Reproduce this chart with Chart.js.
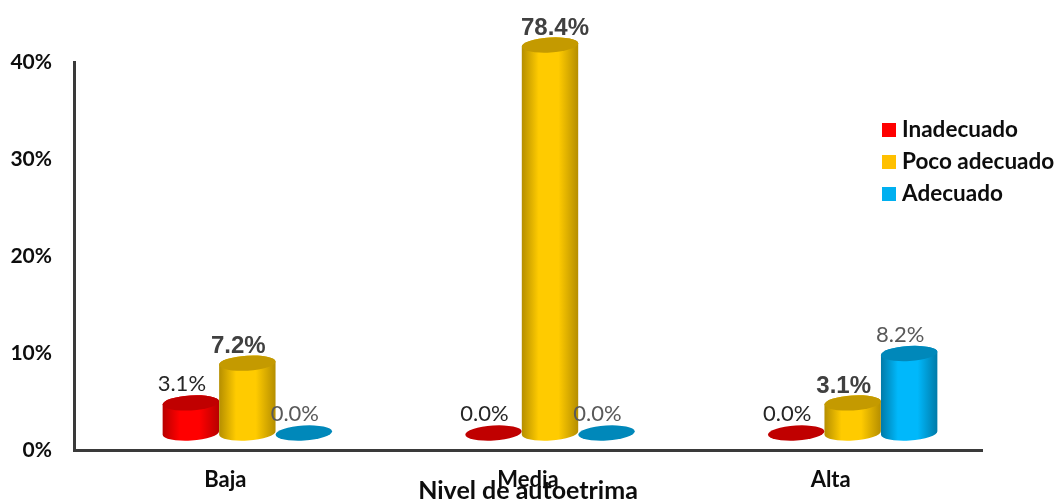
<!DOCTYPE html>
<html lang="es">
<head>
<meta charset="utf-8">
<title>Nivel de autoetrima</title>
<script src="https://cdn.jsdelivr.net/npm/chart.js@4/dist/chart.umd.min.js"></script>
<style>
    html, body { margin: 0; padding: 0; background: #fff; }
    canvas { display: block; }
</style>
</head>
<body>
<canvas id="autoestimaChart" width="1055" height="501"></canvas>
<script>
    const categories = ["Baja", "Media", "Alta"];
    const seriesNames = ["Inadecuado", "Poco adecuado", "Adecuado"];
    const inadecuado = [3.1, 0.0, 0.0];
    const pocoAdecuado = [7.2, 78.4, 3.1];
    const adecuado = [0.0, 0.0, 8.2];
    const axisTitle = "Nivel de autoetrima";

    // colours per series: legend swatch, lit centre, shaded edge, cap
    const palette = [
        { swatch: "#ff0000", light: "#ff0000", edge: "#b80000", cap: "#c00000" },
        { swatch: "#ffc000", light: "#ffcb00", edge: "#b58e00", cap: "#c49a00" },
        { swatch: "#00b0f0", light: "#00b8fb", edge: "#007aa8", cap: "#0088ba" }
    ];
    const labelStyles = [
        { font: "22px Lato", color: "#262626", gap: 19 },
        { font: "bold 24px 'Liberation Sans'", color: "#404040", gap: 17 },
        { font: "22px Lato", color: "#595959", gap: 19 }
    ];

    // the cylinders stand on a raised floor, up and to the right of the axes
    const floorX = 22;
    const floorY = 17;
    const capRadiusY = 7.5;
    const capTilt = -0.06;

    function fillEllipse(ctx, x, y, rx, fill) {
        ctx.beginPath();
        ctx.ellipse(x, y, rx, capRadiusY, capTilt, 0, Math.PI * 2);
        ctx.fillStyle = fill;
        ctx.fill();
    }

    function drawCylinder(ctx, bar, colors, top) {
        const rx = bar.width / 2;
        const x = bar.x + floorX;
        const bottomY = bar.base - floorY;
        const topY = top - floorY;

        if (bottomY - topY < 1) {
            fillEllipse(ctx, x, bottomY, rx, colors.cap);
            return;
        }

        const grad = ctx.createLinearGradient(x - rx, 0, x + rx, 0);
        grad.addColorStop(0, colors.edge);
        grad.addColorStop(0.3, colors.light);
        grad.addColorStop(0.65, colors.light);
        grad.addColorStop(1, colors.edge);

        // side wall, closed by the lower half of the base ellipse
        ctx.beginPath();
        ctx.ellipse(x, bottomY, rx, capRadiusY, capTilt, 0, Math.PI);
        ctx.ellipse(x, topY, rx, capRadiusY, capTilt, Math.PI, Math.PI * 2);
        ctx.closePath();
        ctx.fillStyle = grad;
        ctx.fill();

        fillEllipse(ctx, x, topY, rx, colors.cap);
    }

    const cylinderPlugin = {
        id: "cylinders",
        afterDatasetsDraw(chart) {
            const { ctx, chartArea } = chart;
            const metas = chart.data.datasets.map((_, i) => chart.getDatasetMeta(i));

            ctx.save();
            metas.forEach((meta, i) => {
                meta.data.forEach((bar) => {
                    drawCylinder(ctx, bar, palette[i], Math.max(bar.y, chartArea.top));
                });
            });

            ctx.textAlign = "center";
            ctx.textBaseline = "middle";
            metas.forEach((meta, i) => {
                ctx.font = labelStyles[i].font;
                ctx.fillStyle = labelStyles[i].color;
                meta.data.forEach((bar, j) => {
                    const value = chart.data.datasets[i].data[j];
                    const clipped = bar.y < chartArea.top;
                    const top = Math.max(bar.y, chartArea.top) - floorY;
                    const x = bar.x + floorX + (clipped ? 5 : -9);
                    ctx.fillText(value.toFixed(1) + "%", x, top - labelStyles[i].gap);
                });
            });
            ctx.restore();
        }
    };

    const sideLegendPlugin = {
        id: "sideLegend",
        afterDraw(chart) {
            const { ctx } = chart;
            ctx.save();
            ctx.font = "bold 22.5px Lato";
            ctx.textAlign = "left";
            ctx.textBaseline = "middle";
            chart.data.datasets.forEach((ds, i) => {
                const y = 130 + i * 32;
                ctx.fillStyle = palette[i].swatch;
                ctx.fillRect(882, y - 7, 14, 14);
                ctx.fillStyle = "#0d0d0d";
                ctx.fillText(ds.label, 902, y);
            });
            ctx.restore();
        }
    };

    new Chart(document.getElementById("autoestimaChart"), {
        type: "bar",
        data: {
            labels: categories,
            datasets: [inadecuado, pocoAdecuado, adecuado].map((values, i) => ({
                label: seriesNames[i],
                data: values,
                backgroundColor: "transparent",
                borderWidth: 0,
                barPercentage: 1,
                categoryPercentage: 0.56
            }))
        },
        options: {
            responsive: false,
            animation: false,
            layout: { padding: { top: 62, right: 73, bottom: 0, left: 0 } },
            plugins: {
                legend: { display: false },
                tooltip: { enabled: false }
            },
            scales: {
                x: {
                    afterFit: (scale) => { scale.height = 51; },
                    grid: { display: false },
                    border: { color: "#3a3a3a", width: 3 },
                    ticks: {
                        padding: 9,
                        color: "#0d0d0d",
                        font: { family: "Lato", size: 22, weight: "bold" },
                        maxRotation: 0
                    },
                    title: {
                        display: true,
                        text: axisTitle,
                        color: "#0d0d0d",
                        font: { family: "Lato", size: 25, weight: "bold" },
                        padding: { top: 0, bottom: -5 }
                    }
                },
                y: {
                    min: 0,
                    max: 40,
                    afterFit: (scale) => { scale.width = 74; },
                    grid: { display: false },
                    border: { color: "#3a3a3a", width: 3 },
                    ticks: {
                        stepSize: 10,
                        padding: 14,
                        color: "#0d0d0d",
                        font: { family: "Lato", size: 21, weight: "bold" },
                        callback: (value) => value + "%"
                    }
                }
            }
        },
        plugins: [cylinderPlugin, sideLegendPlugin]
    });
</script>
</body>
</html>
